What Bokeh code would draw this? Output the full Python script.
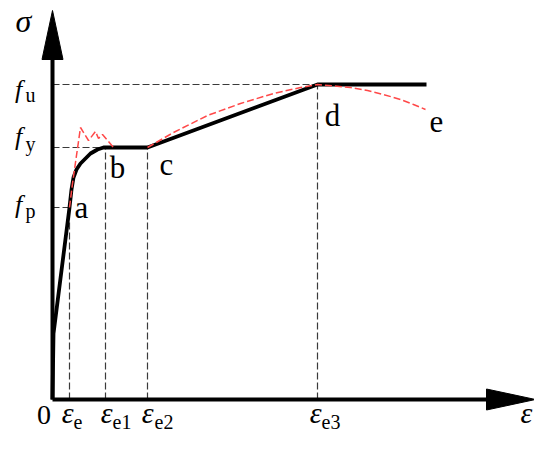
from bokeh.plotting import figure
from bokeh.models import Range1d
from bokeh.core.properties import value
from bokeh.embed import file_html
from bokeh.resources import INLINE

NaN = float("nan")

# ---- data (arbitrary strain / stress units) ----
eps_ticks = [17, 53, 95, 265]          # eps_e, eps_e1, eps_e2, eps_e3
eps_subs = ["e", "e1", "e2", "e3"]
f_levels = [192, 252, 315]             # f_p, f_y, f_u
f_subs = ["p", "y", "u"]
eps_level_idx = [0, 1, 1, 2]           # which f level each eps guide reaches
f_reach_idx = [0, 1, 3]                # which eps tick each f guide reaches

# simplified (model) curve, black
model_x = [0, 1, 17, 19, 21, 24, 28, 33, 38, 45, 51, 53, 95, 265, 374]
model_y = [0, 66, 192, 210, 222, 230, 236, 241, 246, 250, 252, 252, 252, 315, 315]

# test curve, red dashed (NaN = gap along the plateau)
test_x = [17, 20, 28, 36, 43, 46, 50, 61, NaN,
          95, 121, 155, 188, 221, 248, 265, 298, 315, 331, 348, 361, 373]
test_y = [192, 216, 272, 259, 268, 261, 265, 252, NaN,
          252, 267, 284, 296, 306, 312, 315, 312, 309, 305, 300, 295, 290]

point_names = ["a", "b", "c", "d", "e"]
point_x = [17, 53, 95, 265, 373]
point_y = [192, 252, 252, 315, 290]

x_axis_end = 483
y_axis_end = 389

SERIF = value("Liberation Serif")

p = figure(width=534, height=433,
           x_range=Range1d(-52, 482), y_range=Range1d(-34, 399),
           x_axis_type=None, y_axis_type=None,
           toolbar_location=None, output_backend="svg",
           min_border=0, outline_line_color=None,
           background_fill_color="white", border_fill_color="white")

# dashed guide lines
gx, gy = [], []
for t, li in zip(eps_ticks, eps_level_idx):
    gx.append([t, t]); gy.append([0, f_levels[li]])
for lv, ti in zip(f_levels, f_reach_idx):
    gx.append([0, eps_ticks[ti]]); gy.append([lv, lv])
p.multi_line(gx, gy, line_color="#3a3a3a", line_width=1.2, line_dash="7 3")

# axes with arrow heads
head_len, head_half = 49, 10.5
p.segment(x0=[0, 0], y0=[0, 0], x1=[x_axis_end - head_len + 2, 0],
          y1=[0, y_axis_end - head_len + 2], line_color="black", line_width=4)
p.patches(xs=[[x_axis_end - head_len, x_axis_end, x_axis_end - head_len],
              [-head_half, 0, head_half]],
          ys=[[-head_half, 0, head_half],
              [y_axis_end - head_len, y_axis_end, y_axis_end - head_len]],
          fill_color="black", line_color="black", line_width=1)

# curves
p.line(model_x, model_y, line_color="black", line_width=3.8, line_join="round")
p.line(test_x, test_y, line_color="#ff4848", line_width=1.5, line_dash="7 3")

# point labels
p.text(x=point_x, y=point_y, text=point_names,
       x_offset=[12, 12, 19, 15, 11], y_offset=[0, 20, 17, 31, 12],
       text_font=SERIF, text_font_size="31px", text_color="black",
       text_align="center", text_baseline="alphabetic")

# x tick labels: eps with subscripts
n = len(eps_ticks)
p.text(x=eps_ticks, y=[0] * n, text=["\u03b5"] * n,
       x_offset=[4, 7, 6, 4], y_offset=[13] * n,
       text_font=SERIF, text_font_size="30px", text_font_style="italic",
       text_align="right", text_baseline="alphabetic", text_color="black")
p.text(x=eps_ticks, y=[0] * n, text=eps_subs,
       x_offset=[4, 7, 7, 4], y_offset=[22] * n,
       text_font=SERIF, text_font_size="20px",
       text_align="left", text_baseline="alphabetic", text_color="black")
p.text(x=[0], y=[0], text=["0"], x_offset=[-8.5], y_offset=[15],
       text_font=SERIF, text_font_size="28px",
       text_align="center", text_baseline="alphabetic", text_color="black")
# axis names
p.text(x=[x_axis_end], y=[0], text=["\u03b5"], x_offset=[-9], y_offset=[13],
       text_font=SERIF, text_font_size="30px", text_font_style="italic",
       text_align="center", text_baseline="alphabetic", text_color="black")
p.text(x=[0], y=[y_axis_end], text=["\u03c3"], x_offset=[-29], y_offset=[10.5],
       text_font=SERIF, text_font_size="32px", text_font_style="italic",
       text_align="center", text_baseline="alphabetic", text_color="black")

# y tick labels: f with subscripts
m = len(f_levels)
p.text(x=[0] * m, y=f_levels, text=["f"] * m,
       x_offset=[-34] * m, y_offset=[-3, -11, 5],
       text_font=SERIF, text_font_size="26px", text_font_style="italic",
       text_align="center", text_baseline="alphabetic", text_color="black")
p.text(x=[0] * m, y=f_levels, text=f_subs,
       x_offset=[-27] * m, y_offset=[3, -4, 10],
       text_font=SERIF, text_font_size="20px",
       text_align="left", text_baseline="alphabetic", text_color="black")

open("out.html", "w").write(file_html(p, INLINE))
